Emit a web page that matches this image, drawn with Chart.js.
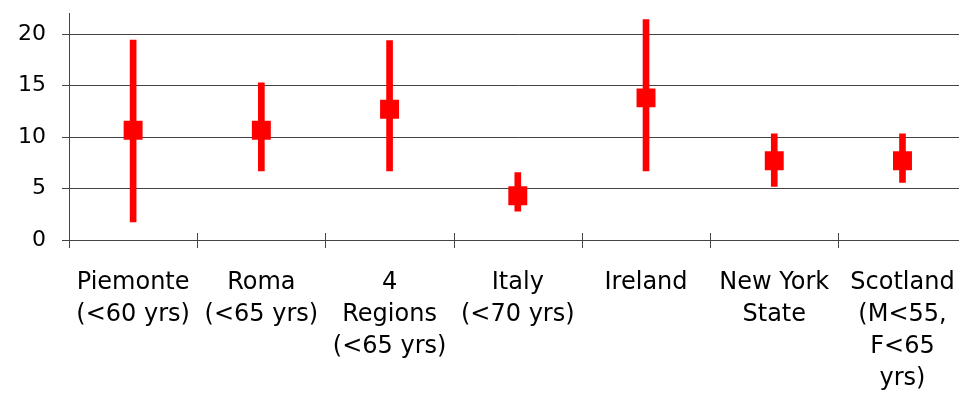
<!DOCTYPE html>
<html>
<head>
<meta charset="utf-8">
<script src="https://cdn.jsdelivr.net/npm/chart.js@4"></script>
<style>
  html, body { margin: 0; padding: 0; background: #fff; overflow: hidden; }
  #wrap { width: 980px; height: 398px; }
</style>
</head>
<body>
<div id="wrap"><canvas id="chart" width="980" height="398"></canvas></div>
<script>
const categories = [
  ["Piemonte", "(<60 yrs)"],
  ["Roma", "(<65 yrs)"],
  ["4", "Regions", "(<65 yrs)"],
  ["Italy", "(<70 yrs)"],
  ["Ireland"],
  ["New York", "State"],
  ["Scotland", "(M<55,", "F<65", "yrs)"],
];
const estimates = [10.65, 10.65, 12.7, 4.3, 13.8, 7.7, 7.7];
const lower = [1.75, 6.7, 6.7, 2.8, 6.7, 5.2, 5.6];
const upper = [19.4, 15.25, 19.35, 6.55, 21.4, 10.3, 10.3];
const yTicks = [0, 5, 10, 15, 20];

const red = "#ff0000";
const axisColor = "#444444";

// short tick marks crossing the x axis at category boundaries
const crossTicks = {
  id: "crossTicks",
  afterDraw: (chart) => {
    const { ctx, scales } = chart;
    const x = scales.x;
    const yBase = scales.y.getPixelForValue(0);
    const step = x.width / categories.length;
    ctx.save();
    ctx.strokeStyle = axisColor;
    ctx.lineWidth = 1;
    for (let i = 0; i <= categories.length; i++) {
      const px = Math.round(x.left + i * step) + 0.5;
      ctx.beginPath();
      ctx.moveTo(px, yBase - 7);
      ctx.lineTo(px, yBase + 8);
      ctx.stroke();
    }
    ctx.restore();
  },
};

new Chart(document.getElementById("chart"), {
  type: "bar",
  data: {
    labels: categories,
    datasets: [
      {
        type: "line",
        data: estimates,
        showLine: false,
        pointStyle: "rect",
        pointRadius: 13.4,
        pointBackgroundColor: red,
        pointBorderWidth: 0,
        pointBorderColor: red,
        order: 0,
      },
      {
        data: lower.map((lo, i) => [lo, upper[i]]),
        backgroundColor: red,
        borderWidth: 0,
        barThickness: 6,
        order: 1,
      },
    ],
  },
  options: {
    responsive: false,
    animation: false,
    // canvas is wider than the window: the reference axis runs past the right edge
    layout: { padding: { top: 11, left: 0, right: 0, bottom: 0 } },
    plugins: { legend: { display: false }, tooltip: { enabled: false } },
    scales: {
      x: {
        offset: true,
        grid: { display: false, drawOnChartArea: false },
        border: { color: axisColor, width: 1 },
        afterFit: (scale) => {
          scale.height = 158;
          scale.paddingLeft = 0;
          scale.paddingRight = 0;
        },
        ticks: {
          maxRotation: 0,
          minRotation: 0,
          autoSkip: false,
          padding: 19,
          color: "#000",
          font: { family: "DejaVu Sans", size: 24, lineHeight: 32 / 24 },
        },
      },
      y: {
        min: 0,
        max: 22,
        afterBuildTicks: (scale) => { scale.ticks = yTicks.map((v) => ({ value: v })); },
        afterFit: (scale) => {
          scale.width = 69;
          scale.paddingTop = 0;
          scale.paddingBottom = 0;
        },
        grid: {
          color: axisColor,
          lineWidth: 1,
          tickLength: 7,
          drawTicks: true,
        },
        border: { color: axisColor, width: 1 },
        ticks: {
          padding: 16,
          color: "#000",
          font: { family: "DejaVu Sans", size: 22 },
        },
      },
    },
  },
  plugins: [crossTicks],
});
</script>
</body>
</html>
